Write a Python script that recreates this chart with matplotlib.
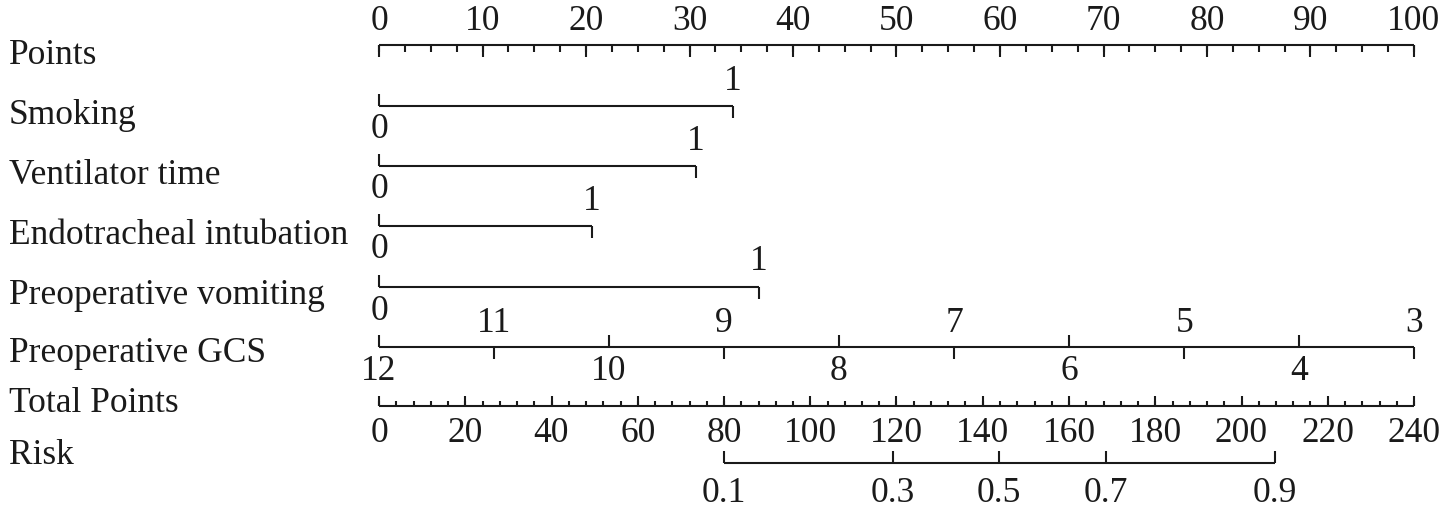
import numpy as np
import matplotlib
matplotlib.use('Agg')
import matplotlib.pyplot as plt

# nomogram data
row_names = ['Points', 'Smoking', 'Ventilator time', 'Endotracheal intubation',
             'Preoperative vomiting', 'Preoperative GCS', 'Total Points', 'Risk']

points_major = np.arange(0, 101, 10)
points_minor = np.arange(0, 100.1, 2.5)

binary_names = ['Smoking', 'Ventilator time', 'Endotracheal intubation', 'Preoperative vomiting']
binary_points = [34.2, 30.6, 20.6, 36.7]   # points for level 1 (level 0 = 0)

gcs_values = [12, 11, 10, 9, 8, 7, 6, 5, 4, 3]
gcs_points = [0, 11.1, 22.2, 33.3, 44.4, 55.6, 66.7, 77.8, 88.9, 100]

total_major = np.arange(0, 241, 20)
total_minor = np.arange(0, 240.1, 4)
total_max = 240

risk_values = [0.1, 0.3, 0.5, 0.7, 0.9]
risk_total = [80, 119.2, 143.8, 168.6, 207.8]

# layout (pixel rows of the original picture, top down)
W, H = 1441, 515
x0, x100 = 379, 1414
label_y = [55, 115, 175, 235, 295, 354, 403, 456]
line_y = {'Points': 45, 'Smoking': 106, 'Ventilator time': 166,
          'Endotracheal intubation': 226, 'Preoperative vomiting': 287,
          'Preoperative GCS': 347, 'Total Points': 406, 'Risk': 463}

fs = 25.5
col = '#1a1a1a'
lw = 1.5
plt.rcParams['font.family'] = ['Liberation Serif', 'DejaVu Serif']

fig = plt.figure(figsize=(W/100, H/100), dpi=100)
ax = fig.add_axes([0, 0, 1, 1])
ppx = (x100 - x0)/100.0
ax.set_xlim(-x0/ppx, (W - x0)/ppx)
ax.set_ylim(H, 0)
ax.axis('off')

def hline(y, a, b):
    ax.plot([a, b], [y, y], color=col, lw=lw, solid_capstyle='butt')

def tick(x, y, length):
    ax.plot([x, x], [y, y + length], color=col, lw=lw, solid_capstyle='butt')

# row labels
for name, yy in zip(row_names, label_y):
    ax.text(-x0/ppx + 9/ppx, yy, name, fontsize=fs, color=col, ha='left', va='center')

# Points axis
y = line_y['Points']
hline(y, 0, 100)
for v in points_minor:
    tick(v, y, 7)
for v in points_major:
    tick(v, y, 12)
    ax.text(v, y - 23, str(v), fontsize=fs, color=col, ha='center', va='center')

# binary predictors
for name, p in zip(binary_names, binary_points):
    y = line_y[name]
    hline(y, 0, p)
    tick(0, y, -12)
    tick(p, y, 12)
    ax.text(0, y + 24, '0', fontsize=fs, color=col, ha='center', va='center')
    ax.text(p, y - 25, '1', fontsize=fs, color=col, ha='center', va='center')

# GCS
y = line_y['Preoperative GCS']
hline(y, gcs_points[0], gcs_points[-1])
for i, (g, p) in enumerate(zip(gcs_values, gcs_points)):
    if i % 2 == 0:
        tick(p, y, -12)
        ax.text(p, y + 25, str(g), fontsize=fs, color=col, ha='center', va='center')
    else:
        tick(p, y, 12)
        ax.text(p, y - 23, str(g), fontsize=fs, color=col, ha='center', va='center')

# Total points
y = line_y['Total Points']
sc = 100.0/total_max
hline(y, 0, total_max*sc)
for v in total_minor:
    tick(v*sc, y, -5)
for v in total_major:
    tick(v*sc, y, -10)
    ax.text(v*sc, y + 27, str(v), fontsize=fs, color=col, ha='center', va='center')

# Risk
y = line_y['Risk']
hline(y, risk_total[0]*sc, risk_total[-1]*sc)
for r, t in zip(risk_values, risk_total):
    tick(t*sc, y, -12)
    ax.text(t*sc, y + 31, str(r), fontsize=fs, color=col, ha='center', va='center')

fig.savefig('out.png', dpi=100)
